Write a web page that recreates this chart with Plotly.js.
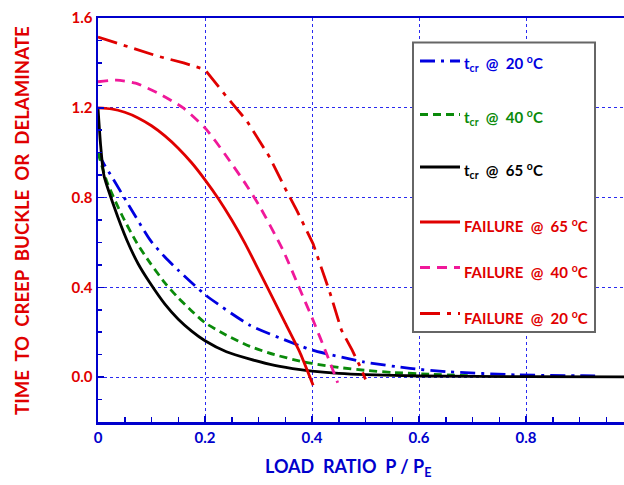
<!DOCTYPE html>
<html>
<head>
<meta charset="utf-8">
<script src="https://cdn.plot.ly/plotly-3.0.1.min.js"></script>
<style>
  html, body { margin: 0; padding: 0; background: #ffffff; }
  #chart { width: 624px; height: 485px; }
</style>
</head>
<body>
<div id="chart"></div>
<script>
// Creep buckling time (t_cr) and failure time vs. load ratio P/PE
const tcr20X = [0, 0.011, 0.03, 0.06, 0.098, 0.125, 0.15, 0.202, 0.284, 0.378, 0.4, 0.496, 0.583, 0.652, 0.783, 0.906, 0.93];
const tcr20Y = [0.996, 0.95, 0.876, 0.756, 0.609, 0.535, 0.476, 0.364, 0.231, 0.139, 0.12, 0.068, 0.039, 0.024, 0.010, 0.006, 0.005];

const tcr40X = [0, 0.017, 0.045, 0.073, 0.097, 0.125, 0.15, 0.175, 0.2, 0.24, 0.284, 0.33, 0.378, 0.4, 0.45, 0.5, 0.55, 0.626, 0.7];
const tcr40Y = [1.0, 0.868, 0.72, 0.596, 0.51, 0.42, 0.353, 0.295, 0.242, 0.187, 0.137, 0.1, 0.071, 0.061, 0.043, 0.03, 0.021, 0.012, 0.006];

const tcr65X = [0, 0.005, 0.011, 0.03, 0.054, 0.075, 0.097, 0.125, 0.15, 0.175, 0.2, 0.24, 0.284, 0.33, 0.378, 0.4, 0.45, 0.5, 0.6, 0.8, 0.983];
const tcr65Y = [1.2, 1.03, 0.90, 0.76, 0.61, 0.505, 0.42, 0.325, 0.258, 0.205, 0.162, 0.113, 0.08, 0.052, 0.033, 0.027, 0.017, 0.011, 0.005, 0.002, 0.001];

const fail65X = [0, 0.025, 0.05, 0.075, 0.1, 0.125, 0.15, 0.175, 0.2, 0.225, 0.25, 0.275, 0.3, 0.325, 0.35, 0.378, 0.402];
const fail65Y = [1.2, 1.195, 1.18, 1.155, 1.12, 1.075, 1.02, 0.955, 0.879, 0.795, 0.70, 0.595, 0.478, 0.36, 0.24, 0.106, -0.036];

const fail40X = [0, 0.035, 0.07, 0.11, 0.16, 0.202, 0.237, 0.278, 0.303, 0.346, 0.378, 0.402, 0.427, 0.448];
const fail40Y = [1.316, 1.323, 1.31, 1.268, 1.198, 1.105, 0.994, 0.853, 0.757, 0.564, 0.387, 0.253, 0.105, -0.025];

const fail20X = [0, 0.05, 0.11, 0.16, 0.2, 0.24, 0.278, 0.3, 0.321, 0.35, 0.371, 0.402, 0.434, 0.455, 0.475, 0.49, 0.5];
const fail20Y = [1.515, 1.477, 1.431, 1.40, 1.37, 1.25, 1.142, 1.059, 0.979, 0.84, 0.745, 0.594, 0.372, 0.209, 0.12, 0.046, -0.01];

const xTickVals = [0, 0.2, 0.4, 0.6, 0.8];
const xTickText = ['0', '0.2', '0.4', '0.6', '0.8'];
const yTickVals = [0, 0.4, 0.8, 1.2, 1.6];
const yTickText = ['0.0', '0.4', '0.8', '1.2', '1.6'];

const NB = '\u00a0';
const legendLabels = [
  't<sub>cr</sub>' + NB + NB + '@' + NB + NB + '20' + NB + '<sup>o</sup>C',
  't<sub>cr</sub>' + NB + NB + '@' + NB + NB + '40' + NB + '<sup>o</sup>C',
  't<sub>cr</sub>' + NB + NB + '@' + NB + NB + '65' + NB + '<sup>o</sup>C',
  'FAILURE' + NB + NB + '@' + NB + NB + '65' + NB + '<sup>o</sup>C',
  'FAILURE' + NB + NB + '@' + NB + NB + '40' + NB + '<sup>o</sup>C',
  'FAILURE' + NB + NB + '@' + NB + NB + '20' + NB + '<sup>o</sup>C'
];

const FONT = 'Lato, Liberation Sans, Arial, sans-serif';
const AXIS_BLUE = '#0000cc';
const RED = '#e00000';

const series = [
  { x: tcr20X, y: tcr20Y, color: '#0000e0', dash: '15px,6px,3px,6px', shape: 'spline', text: '#0000e0' },
  { x: tcr40X, y: tcr40Y, color: '#0a8a0a', dash: '8px,5px', shape: 'spline', text: '#0a8a0a' },
  { x: tcr65X, y: tcr65Y, color: '#000000', dash: 'solid', shape: 'spline', text: '#000000' },
  { x: fail65X, y: fail65Y, color: RED, dash: 'solid', shape: 'spline', text: RED },
  { x: fail40X, y: fail40Y, color: '#f0189a', dash: '10px,7px', shape: 'spline', text: RED },
  { x: fail20X, y: fail20Y, color: RED, dash: '20px,7px,4px,7px', shape: 'linear', text: RED }
];

const traces = series.map(s => ({
  type: 'scatter',
  mode: 'lines',
  x: s.x,
  y: s.y,
  line: { color: s.color, width: 2.8, dash: s.dash, shape: s.shape, smoothing: 0.6 },
  hoverinfo: 'skip',
  showlegend: false
}));

// plot area in pixels: x 98..624, y 18..422
const L = 98, R = 624, T = 18, B = 422;
const px = v => (v - L) / (R - L);
const py = v => (B - v) / (B - T);

const shapes = [
  { type: 'rect', xref: 'paper', yref: 'paper', x0: px(413), x1: px(595), y0: py(332), y1: py(42.5),
    fillcolor: '#ffffff', line: { color: '#666666', width: 2 }, layer: 'above' }
];
const annotations = [];
const rowLineY = [61, 114.5, 167, 222, 267.5, 313.5];
const rowTextY = [64, 117.5, 170, 225, 271, 317];
series.forEach((s, i) => {
  shapes.push({ type: 'line', xref: 'paper', yref: 'paper',
    x0: px(420), x1: px(460), y0: py(rowLineY[i]), y1: py(rowLineY[i]),
    line: { color: s.color, width: 2.8, dash: s.dash }, layer: 'above' });
  annotations.push({ xref: 'paper', yref: 'paper', x: px(462), y: py(rowTextY[i]),
    xanchor: 'left', yanchor: 'middle', showarrow: false, text: legendLabels[i],
    font: { family: FONT, size: 15, color: s.text, weight: 'bold' } });
});

annotations.push({ xref: 'paper', yref: 'paper', x: px(22), y: py(221), textangle: -90,
  xanchor: 'center', yanchor: 'middle', showarrow: false,
  text: 'TIME' + NB + NB + 'TO' + NB + NB + 'CREEP' + NB + NB + 'BUCKLE' + NB + NB + 'OR' + NB + NB + 'DELAMINATE',
  font: { family: FONT, size: 18.6, color: RED, weight: 'bold' } });

annotations.push({ xref: 'paper', yref: 'paper', x: px(263), y: py(467),
  xanchor: 'left', yanchor: 'middle', showarrow: false,
  text: 'LOAD' + NB + NB + 'RATIO' + NB + NB + 'P' + NB + '/' + NB + 'P<sub>E</sub>',
  font: { family: FONT, size: 18, color: AXIS_BLUE, weight: 'bold' } });

const layout = {
  width: 624, height: 485,
  margin: { l: L, r: 0, t: T, b: 485 - B, pad: 0 },
  paper_bgcolor: '#ffffff', plot_bgcolor: '#ffffff',
  showlegend: false,
  xaxis: {
    range: [0, 0.983], tickvals: xTickVals, ticktext: xTickText,
    ticks: 'inside', ticklen: 6, tickwidth: 1.5, tickcolor: AXIS_BLUE,
    minor: { dtick: 0.05, tick0: 0, ticks: 'inside', ticklen: 5, tickwidth: 1.5, tickcolor: AXIS_BLUE, showgrid: false },
    showgrid: true, gridcolor: '#2a2af0', griddash: 'dot', gridwidth: 1,
    showline: true, linecolor: AXIS_BLUE, linewidth: 2.5, mirror: true, zeroline: false,
    tickfont: { family: FONT, size: 15, color: AXIS_BLUE, weight: 'bold' }
  },
  yaxis: {
    range: [-0.2, 1.6], tickvals: yTickVals, ticktext: yTickText,
    ticks: 'inside', ticklen: 6, tickwidth: 1.5, tickcolor: AXIS_BLUE,
    minor: { dtick: 0.1, tick0: 0, ticks: 'inside', ticklen: 4, tickwidth: 1.5, tickcolor: AXIS_BLUE, showgrid: false },
    showgrid: true, gridcolor: '#2a2af0', griddash: 'dot', gridwidth: 1,
    showline: true, linecolor: AXIS_BLUE, linewidth: 2.5, mirror: false, zeroline: false,
    tickfont: { family: FONT, size: 15, color: RED, weight: 'bold' }
  },
  shapes: shapes,
  annotations: annotations
};

Plotly.newPlot('chart', traces, layout, { displayModeBar: false, staticPlot: true });
</script>
</body>
</html>
